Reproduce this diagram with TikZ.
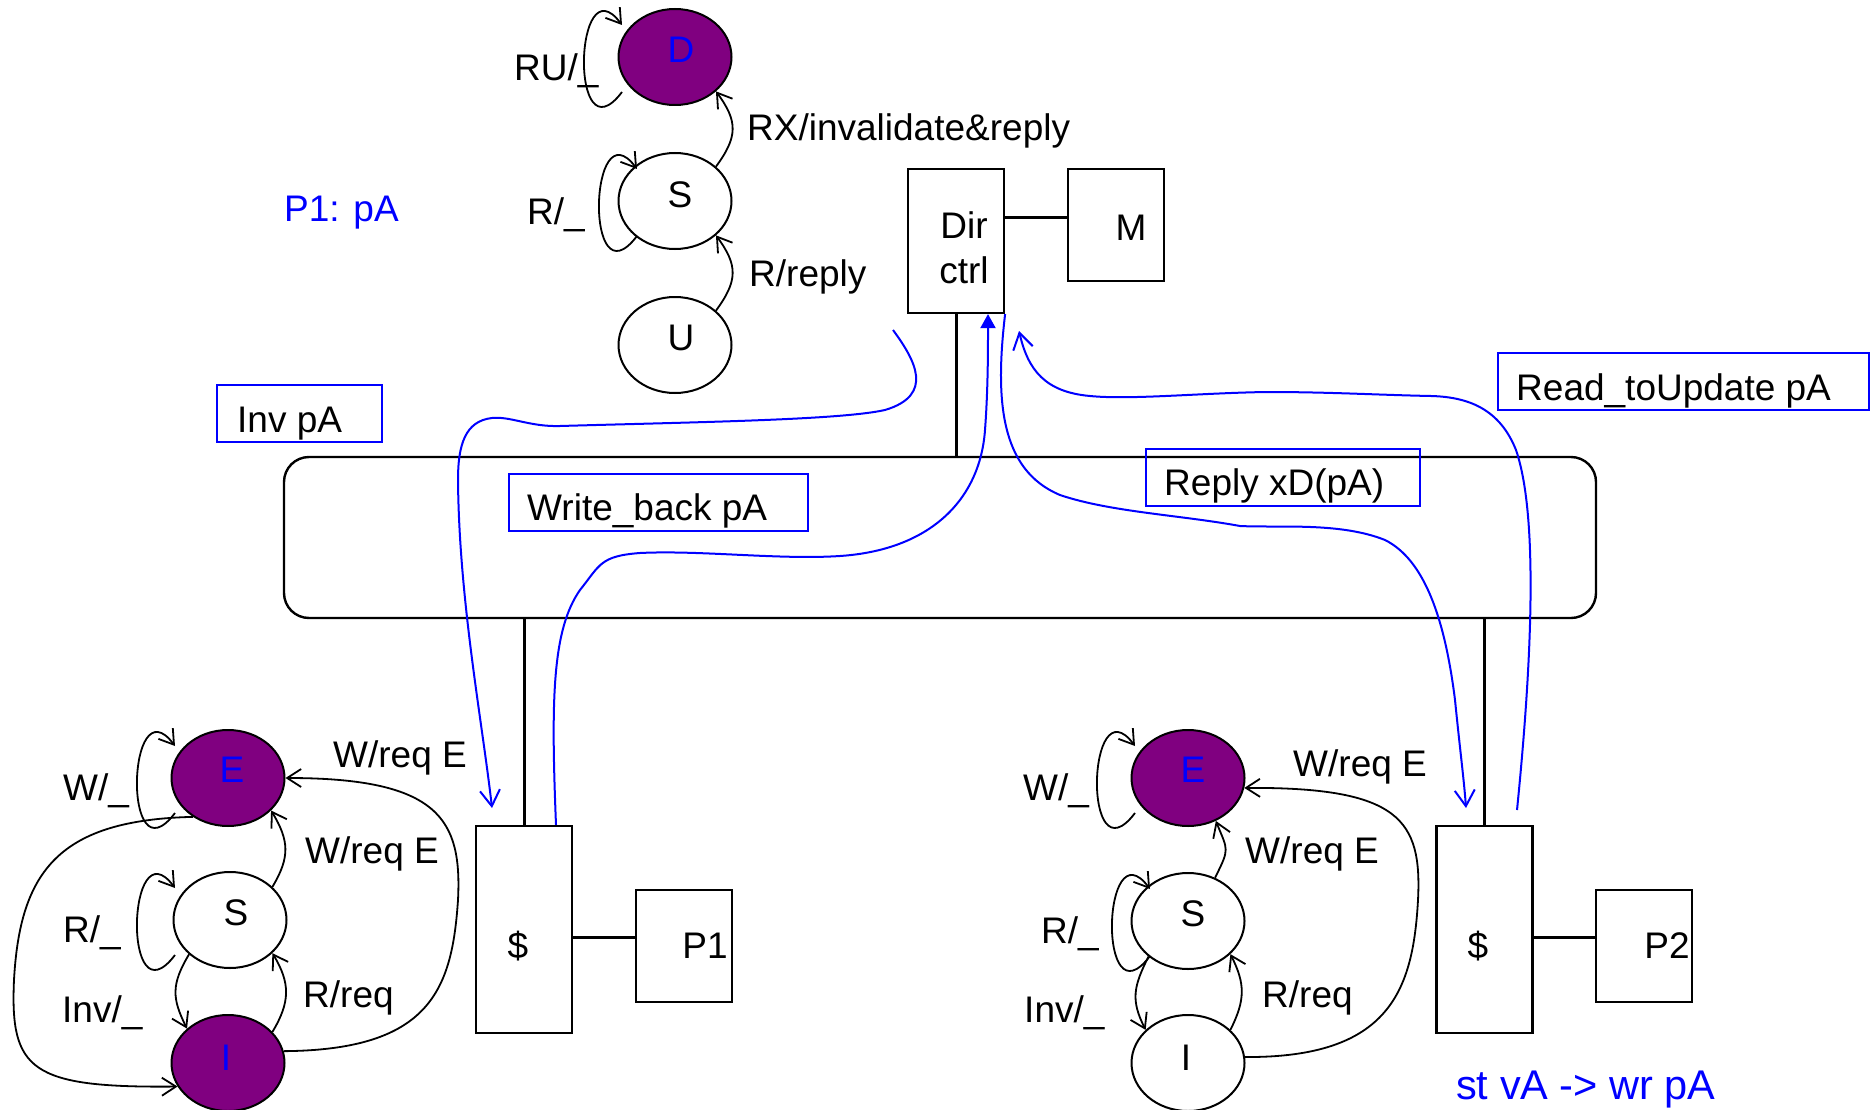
\documentclass[tikz,border=0pt]{standalone}
\usepackage{fontspec}
\setmainfont{Liberation Sans}
\usetikzlibrary{arrows.meta,shapes.geometric}
\definecolor{stpurple}{HTML}{800080}
\definecolor{stblue}{HTML}{0000FF}
\newcommand{\selfloop}[2]{\draw[tr] ([shift={(-#2,35)}]#1.center) .. controls ([shift={(-#2-53,105)}]#1.center) and ([shift={(-#2-48,-96)}]#1.center) .. ([shift={(-#2,-32)}]#1.center);}
\begin{document}
\begin{tikzpicture}[x=1pt,y=-1pt,
 txt/.style={font=\fontsize{37}{45}\selectfont, inner sep=0pt},
 st/.style={ellipse, draw=black, line width=2pt, minimum width=113pt, minimum height=96pt, inner sep=0pt},
 pst/.style={st, fill=stpurple},
 bx/.style={draw=black, line width=2.2pt, inner sep=0pt},
 bbx/.style={draw=stblue, line width=2pt, inner sep=0pt, anchor=north west},
 tr/.style={line width=1.8pt, -{Straight Barb[length=14pt,width=18pt]}},
 bl/.style={draw=stblue, line width=2pt, -{Straight Barb[length=16pt,width=20pt]}},
 wire/.style={line width=3pt}]
\useasboundingbox (0,0) rectangle (1870,1110);

% ---------- top FSM ----------
\node[pst] (D) at (675,57) {};
\node[st] (S0) at (675,201) {};
\node[st] (U) at (675,345) {};
\node[txt, text=stblue] (Dt) at (681,50) {D};
\node[txt] (S0t) at (680,195) {S};
\node[txt] (Ut) at (681,338) {U};
\selfloop{D}{53}
\selfloop{S0}{38}
\draw[tr] (S0.40) .. controls +(22,-30) and +(22,30) .. (D.320);
\draw[tr] (U.40) .. controls +(22,-30) and +(22,30) .. (S0.320);
\node[txt, anchor=base west] (l1) at (514,81) {RU/\_};
\node[txt, anchor=base west] (l2) at (527,224) {R/\_};
\node[txt, anchor=base west] (l3) at (747,141) {RX/invalidate\&reply};
\node[txt, anchor=base west] (l4) at (749,286) {R/reply};
\node[txt, anchor=base west, text=stblue] (p1pa) at (284,222) {P1: pA};

% ---------- directory, memory, bus ----------
\node[bx, minimum width=96pt, minimum height=144pt] (Dir) at (956,241) {};
\node[txt, anchor=base] (Dirt1) at (964,238) {Dir};
\node[txt, anchor=base] (Dirt2) at (964,283) {ctrl};
\node[bx, minimum width=96pt, minimum height=112pt] (M) at (1116,225) {};
\node[txt, anchor=base] (Mt) at (1131,240) {M};
\coordinate (dm) at ([yshift=24pt]Dir.east);
\draw[wire] (dm) -- (dm -| M.west);
\node[draw=black, line width=2.4pt, rounded corners=25pt, minimum width=1312pt, minimum height=161pt, inner sep=0pt] (Bus) at (940,537.5) {};
\draw[wire] (Dir.south) -- (Dir.south |- Bus.north);

% ---------- caches and processors ----------
\node[bx, minimum width=96pt, minimum height=207pt] (C1) at (524,929.5) {};
\node[bx, minimum width=96pt, minimum height=112pt] (P1) at (684,946) {};
\node[bx, minimum width=96pt, minimum height=207pt] (C2) at (1484.5,929.5) {};
\node[bx, minimum width=96pt, minimum height=112pt] (P2) at (1644,946) {};
\node[txt] (C1t) at (518,946) {\$};
\node[txt] (P1t) at (705,946) {P1};
\node[txt] (C2t) at (1478,946) {\$};
\node[txt] (P2t) at (1667,946) {P2};
\draw[wire] (C1.north) -- (C1.north |- Bus.south);
\draw[wire] (C2.north) -- (C2.north |- Bus.south);
\draw[wire] (C1.east |- 0,937) -- (P1.west |- 0,937);
\draw[wire] (C2.east |- 0,937) -- (P2.west |- 0,937);

% ---------- bottom-left FSM ----------
\node[pst] (E) at (228,778) {};
\node[st] (S) at (230,920) {};
\node[pst] (I) at (228,1063) {};
\node[txt, text=stblue] (Et) at (232,770) {E};
\node[txt] (St) at (236,913) {S};
\node[txt, text=stblue] (It) at (226,1058) {I};
\selfloop{E}{53}
\selfloop{S}{55}
\draw[tr] (S.38) .. controls +(18,-30) and +(18,30) .. (E.323);
\draw[tr] (I.35) .. controls +(18,-30) and +(18,30) .. (S.322);
\draw[tr] (S.220) .. controls +(-18,30) and +(-15,-30) .. (I.140);
\draw[tr] (I.12) .. controls (430,1050) and (452,990) .. (458,900) .. controls (462,820) and (440,778) .. (E.east);
\draw[tr] (E.228) .. controls (60,820) and (20,870) .. (14,980) .. controls (10,1070) and (30,1088) .. (I.205);
\node[txt, anchor=base west] (a1) at (63,800) {W/\_};
\node[txt, anchor=base west] (a2) at (333,767) {W/req E};
\node[txt, anchor=base west] (a3) at (305,863) {W/req E};
\node[txt, anchor=base west] (a4) at (63,942) {R/\_};
\node[txt, anchor=base west] (a5) at (62,1022) {Inv/\_};
\node[txt, anchor=base west] (a6) at (303,1007) {R/req};

% ---------- bottom-right FSM ----------
\node[pst] (E2) at (1188,778) {};
\node[st] (S2) at (1188,921) {};
\node[st] (I2) at (1188,1063) {};
\node[txt, text=stblue] (E2t) at (1193,770) {E};
\node[txt] (S2t) at (1193,914) {S};
\node[txt] (I2t) at (1186,1058) {I};
\selfloop{E2}{53}
\selfloop{S2}{38}
\draw[tr] (S2.58) .. controls +(15,-30) and +(12,30) .. (E2.303);
\draw[tr] (I2.38) .. controls +(15,-30) and +(15,30) .. (S2.322);
\draw[tr] (S2.222) .. controls +(-15,30) and +(-15,-30) .. (I2.142);
\draw[tr] (I2.6) .. controls (1390,1058) and (1413,990) .. (1418,900) .. controls (1422,820) and (1400,787) .. (E2.350);
\node[txt, anchor=base west] (b1) at (1023,800) {W/\_};
\node[txt, anchor=base west] (b2) at (1293,776) {W/req E};
\node[txt, anchor=base west] (b3) at (1245,863) {W/req E};
\node[txt, anchor=base west] (b4) at (1041,943) {R/\_};
\node[txt, anchor=base west] (b5) at (1024,1022) {Inv/\_};
\node[txt, anchor=base west] (b6) at (1262,1007) {R/req};
\node[txt, anchor=base west, text=stblue, font=\fontsize{41.5}{48}\selectfont] (stv) at (1456,1099) {st vA -> wr pA};

% ---------- blue message boxes ----------
\node[bbx, minimum width=165pt, minimum height=57pt] (invbox) at (216,384) {};
\node[txt, anchor=base west] (invt) at ([shift={(21,48)}]invbox.north west) {Inv pA};
\node[bbx, minimum width=299pt, minimum height=57pt] (wbbox) at (508,473) {};
\node[txt, anchor=base west] (wbt) at ([shift={(19,47)}]wbbox.north west) {Write\_back pA};
\node[bbx, minimum width=274pt, minimum height=57pt] (rpbox) at (1145,448) {};
\node[txt, anchor=base west] (rpt) at ([shift={(19,47)}]rpbox.north west) {Reply xD(pA)};
\node[bbx, minimum width=371pt, minimum height=57pt] (rubox) at (1497,352) {};
\node[txt, anchor=base west] (rut) at ([shift={(19,48)}]rubox.north west) {Read\_toUpdate pA};

% ---------- blue message arrows ----------
\coordinate (invS) at (893,330);
\coordinate (invE) at (492,808);
\draw[bl] (invS) .. controls (915,360) and (935,395) .. (885,410) .. controls (840,420) and (700,422) .. (560,426) .. controls (530,427) and (510,416) .. (492,418) .. controls (465,421) and (458,445) .. (458,480) .. controls (459,600) and (482,720) .. (invE);
\draw[stblue, line width=2pt, -{Triangle[length=14pt,width=15pt]}] ([xshift=32pt]C1.north) .. controls (551,700) and (552,630) .. (580,590) .. controls (600,565) and (600,556) .. (640,553) .. controls (700,550) and (780,560) .. (840,556) .. controls (930,550) and (980,500) .. (985,430) .. controls (988,390) and (988,350) .. ([xshift=32pt]Dir.south);
\coordinate (repE) at (1466,808);
\draw[bl] (Dir.south east) .. controls (995,400) and (1000,470) .. (1060,495) .. controls (1110,512) and (1180,515) .. (1240,526) .. controls (1280,528) and (1340,522) .. (1385,540) .. controls (1425,560) and (1445,620) .. (1455,700) .. controls (1460,750) and (1464,780) .. (repE);
\coordinate (rdS) at (1517,810);
\coordinate (rdE) at (1019,331);
\draw[bl] (rdS) .. controls (1530,680) and (1540,520) .. (1516,450) .. controls (1500,410) and (1470,397) .. (1431,396) .. controls (1380,395) and (1330,392) .. (1267,392) .. controls (1200,393) and (1130,400) .. (1090,396) .. controls (1045,392) and (1028,370) .. (rdE);
\end{tikzpicture}
\end{document}
